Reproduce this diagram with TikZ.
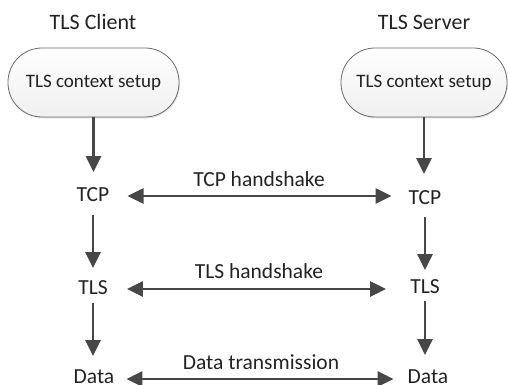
\documentclass[tikz,border=0pt]{standalone}
\usepackage{fontspec}
\setmainfont{Carlito}
\usetikzlibrary{arrows.meta,shadows}
\definecolor{inkgray}{HTML}{222222}
\definecolor{arrowgray}{HTML}{474747}
\definecolor{edgegray}{HTML}{6A6A6A}
\tikzset{
  lbl/.style={inner sep=0pt, text height=13.5pt, text depth=0pt, text=inkgray,
    font=\fontsize{21.5}{25}\selectfont},
  title/.style={inner sep=0pt, text=inkgray, font=\fontsize{22}{26}\selectfont},
  setupbox/.style={draw=edgegray, line width=0.8pt, rounded corners=34pt,
    minimum height=69pt, inner sep=0pt, top color=white, bottom color=black!6,
    text=inkgray, font=\fontsize{19}{23}\selectfont,
    drop shadow={shadow xshift=1pt, shadow yshift=-1.5pt, opacity=0.2}},
  flow/.style={draw=arrowgray, line width=2.6pt,
    -{Triangle[length=16pt,width=15pt]}},
  duplex/.style={draw=arrowgray, line width=2.6pt,
    {Triangle[length=16pt,width=15pt]}-{Triangle[length=16pt,width=15pt]}},
}
\begin{document}
\begin{tikzpicture}[x=1pt,y=-1pt]
\useasboundingbox (0,0) rectangle (508,385);

% column titles
\node[title] (ctitle) at (93,22) {TLS Client};
\node[title] (stitle) at (424,22) {TLS Server};

% context setup boxes
\node[setupbox, minimum width=171pt] (cbox) at (93.5,82.5) {TLS context setup};
\node[setupbox, minimum width=166pt] (sbox) at (424,82.5) {TLS context setup};

% client layers
\node[lbl] (ctcp)  at (93,195) {TCP};
\node[lbl] (ctls)  at (93,288) {TLS};
\node[lbl] (cdata) at (94,377) {Data};

% server layers
\node[lbl] (stcp)  at (425,198) {TCP};
\node[lbl] (stls)  at (425,287) {TLS};
\node[lbl] (sdata) at (428,377) {Data};

% client flow
\draw[flow, shorten >=16pt] (cbox.south) -- (cbox.south |- ctcp.north);
\draw[flow, shorten <=13pt, shorten >=13pt] (ctcp.south) -- (ctls.north);
\draw[flow, shorten <=8pt, shorten >=14pt] (ctls.south) -- (ctls.south |- cdata.north);

% server flow
\draw[flow, shorten >=17pt] (sbox.south) -- (sbox.south |- stcp.north);
\draw[flow, shorten <=12pt, shorten >=10pt] (stcp.south) -- (stcp.south |- stls.north);
\draw[flow, shorten <=7pt, shorten >=15pt] (stls.south) -- (stls.south |- sdata.north);

% exchanges between the peers
\draw[duplex, shorten <=18pt, shorten >=17pt] (ctcp.east) ++(0,1) coordinate (tcpa) (tcpa) -- (tcpa -| stcp.west)
  node[midway, above=8pt, lbl] (tcplbl) {TCP handshake};
\draw[duplex, shorten <=19pt, shorten >=24pt] (ctls.east) ++(0,1) coordinate (tlsa) (tlsa) -- (tlsa -| stls.west)
  node[midway, above=9pt, lbl] (tlslbl) {TLS handshake};
\draw[duplex, shorten <=12pt, shorten >=14pt] (cdata.east) ++(0,2) coordinate (data) (data) -- (data -| sdata.west)
  node[midway, above=8pt, lbl] (datalbl) {Data transmission};
\end{tikzpicture}
\end{document}
